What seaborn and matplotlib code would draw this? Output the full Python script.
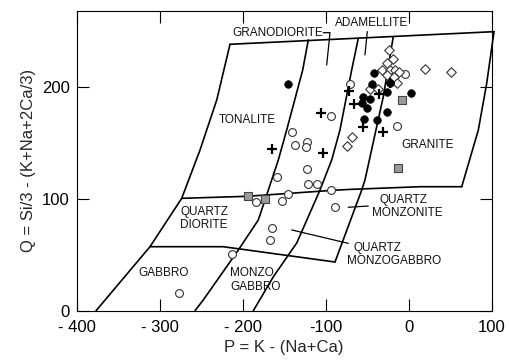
import numpy as np
import pandas as pd
import matplotlib
matplotlib.use("Agg")
import matplotlib.pyplot as plt
import seaborn as sns

# ---------------- field boundaries (P, Q) ----------------
outer_left_x = [-376.7, -311.7, -273.5, -251.4, -231.3, -215.3]
outer_left_y = [0, 57.3, 100.6, 143.9, 188.6, 238.5]
top_x = [-215.3, 102.8]
top_y = [238.5, 249.8]
right_x = [102.8, 94.0, 83.9, 63.9]
right_y = [249.8, 203.6, 161.8, 111.0]
mid_x = [-273.5, -195.0, -92.8, -70.7, 13.6, 63.9]
mid_y = [100.6, 102.4, 107.7, 108.6, 111.0, 111.0]
bottom_x = [-311.7, -223.4, -88.8]
bottom_y = [57.3, 57.3, 43.6]
lineB_x = [-121.0, -127.7, -147.0, -157.1, -171.1, -181.2, -205.3, -247.5, -257.5]
lineB_y = [242.3, 215.5, 161.8, 134.9, 103.6, 81.2, 54.3, 9.6, 0]
lineC_x = [-60.7, -68.7, -82.8, -92.8, -106.9, -134.9, -163.1, -187.2]
lineC_y = [243.9, 215.5, 161.8, 134.9, 108.0, 60.6, 30.4, 0]
lineD_x = [-18.6, -30.6, -52.7, -56.6, -88.8]
lineD_y = [245.3, 191.6, 117.0, 108.0, 43.6]

# label pointer lines
gd_ptr_x = [-102.9, -94.8, -98.8]
gd_ptr_y = [248.9, 248.9, 220.0]
ad_ptr_x = [-49.9, -52.7]
ad_ptr_y = [249.8, 228.9]
qmz_ptr_x = [-72.8, -48.7]
qmz_ptr_y = [92.6, 93.7]
qmzgo_ptr_x = [-141.0, -72.8]
qmzgo_ptr_y = [72.3, 60.3]

# ---------------- samples ----------------
filled_p = [-145.7, -42.3, -44.2, -54.8, -46.1, -56.3, -50.2, -26.1, 2.8, -25.7, -53.9, -38.2, -22.5]
filled_q = [202.6, 213.1, 202.9, 191.3, 189.8, 185.9, 181.4, 195.4, 194.6, 178.2, 171.3, 170.8, 203.8]

plus_p = [-165.1, -105.7, -102.7, -72.2, -65.3, -54.7, -30.6, -35.8, -22.5]
plus_q = [144.5, 176.7, 141.2, 196.7, 184.6, 164.7, 160.2, 193.6, 203.6]

open_p = [-70.2, -93.9, -140.6, -137.3, -122.9, -124.3, -122.5, -159.0, -121.0, -110.5, -93.3,
          -145.1, -153.0, -183.7, -88.4, -164.3, -166.9, -213.1, -276.4, -14.1, -4.5]
open_q = [203.0, 174.3, 160.4, 148.3, 150.6, 146.6, 126.6, 119.4, 113.0, 113.0, 108.1,
          104.5, 98.5, 97.3, 92.8, 74.3, 63.3, 50.5, 16.3, 165.1, 211.9]

square_p = [-8.4, -12.5, -193.3, -173.1]
square_q = [188.6, 127.5, 102.7, 100.0]

diamond_p = [-23.7, -18.9, -26.1, -31.6, -23.1, -16.5, -11.1, -26.1, -18.3, -14.5, -46.6, -37.0,
             19.6, 51.0, -68.3, -74.7]
diamond_q = [233.4, 224.9, 221.5, 215.9, 215.9, 215.9, 214.0, 211.0, 209.2, 203.6, 198.9, 198.5,
             216.8, 213.7, 155.5, 147.2]

x_ticks = [-400, -300, -200, -100, 0, 100]
x_tick_labels = ["- 400", "- 300", "- 200", "-100", "0", "100"]
y_ticks = [0, 100, 200]
y_tick_labels = ["0", "100", "200"]

field_labels = [
    ("GRANODIORITE", -102.9, 248.9, "right"),
    ("ADAMELLITE", -88.8, 257.8, "left"),
    ("TONALITE", -229.4, 170.7, "left"),
    ("GRANITE", -8.4, 148.3, "left"),
    ("QUARTZ", -34.6, 99.1, "left"),
    ("MONZONITE", -44.6, 87.2, "left"),
    ("QUARTZ", -275.5, 88.6, "left"),
    ("DIORITE", -275.5, 76.7, "left"),
    ("QUARTZ", -66.7, 55.9, "left"),
    ("MONZOGABBRO", -74.7, 44.5, "left"),
    ("GABBRO", -325.8, 33.5, "left"),
    ("MONZO", -215.3, 33.5, "left"),
    ("GABBRO", -215.3, 21.5, "left"),
]

sns.set_theme(style="ticks")
plt.rcParams["font.family"] = ["Liberation Sans", "DejaVu Sans"]

fig = plt.figure(figsize=(5.09, 3.64), dpi=100)
ax = fig.add_axes([0.1507, 0.1464, 0.8153, 0.8234])

# boundaries as one long-form table
segs = []
for name, xs, ys in [("A", outer_left_x, outer_left_y), ("top", top_x, top_y), ("right", right_x, right_y),
                     ("mid", mid_x, mid_y), ("bot", bottom_x, bottom_y), ("B", lineB_x, lineB_y),
                     ("C", lineC_x, lineC_y), ("D", lineD_x, lineD_y)]:
    for i, (xv, yv) in enumerate(zip(xs, ys)):
        segs.append({"seg": name, "order": i, "P": xv, "Q": yv})
bdf = pd.DataFrame(segs)
sns.lineplot(data=bdf, x="P", y="Q", units="seg", estimator=None, sort=False,
             color="black", lw=1.2, ax=ax, legend=False)

psegs = []
for name, xs, ys in [("gd", gd_ptr_x, gd_ptr_y), ("ad", ad_ptr_x, ad_ptr_y),
                     ("qmz", qmz_ptr_x, qmz_ptr_y), ("qmzgo", qmzgo_ptr_x, qmzgo_ptr_y)]:
    for xv, yv in zip(xs, ys):
        psegs.append({"seg": name, "P": xv, "Q": yv})
pdf = pd.DataFrame(psegs)
sns.lineplot(data=pdf, x="P", y="Q", units="seg", estimator=None, sort=False,
             color="black", lw=0.9, ax=ax, legend=False)
for ln in ax.lines:
    ln.set_clip_on(False)

# samples
sns.scatterplot(x=open_p, y=open_q, marker="o", s=32, facecolor="white", edgecolor="#333333",
                linewidth=0.8, ax=ax, zorder=3)
sns.scatterplot(x=diamond_p, y=diamond_q, marker="D", s=24, facecolor="white", edgecolor="#333333",
                linewidth=0.8, ax=ax, zorder=3)
sns.scatterplot(x=square_p, y=square_q, marker="s", s=28, facecolor="#9a9a9a", edgecolor="#444444",
                linewidth=0.8, ax=ax, zorder=3)
sns.scatterplot(x=filled_p, y=filled_q, marker="o", s=30, color="black", edgecolor="black",
                linewidth=0.5, ax=ax, zorder=4)
sns.scatterplot(x=plus_p, y=plus_q, marker="+", s=60, color="black", linewidth=1.6, ax=ax, zorder=5)

for txt, xv, yv, ha in field_labels:
    ax.text(xv, yv, txt, ha=ha, va="center", fontsize=8.5, color="#111111")

ax.set_xlim(-400, 100)
ax.set_ylim(0, 268.3)
ax.set_xticks(x_ticks)
ax.set_xticklabels(x_tick_labels)
ax.set_yticks(y_ticks)
ax.set_yticklabels(y_tick_labels)
ax.tick_params(direction="in", length=8.5, width=0.8, top=True, right=True,
               labelsize=12, colors="black")
ax.tick_params(axis="x", pad=6.5)
ax.tick_params(axis="y", pad=5)
for sp in ax.spines.values():
    sp.set_visible(True)
    sp.set_linewidth(0.8)
    sp.set_color("black")

ax.set_xlabel("P = K - (Na+Ca)", fontsize=12, labelpad=4)
ax.set_ylabel("Q = Si/3 - (K+Na+2Ca/3)", fontsize=12, labelpad=4)

fig.savefig("out.png", dpi=100)
